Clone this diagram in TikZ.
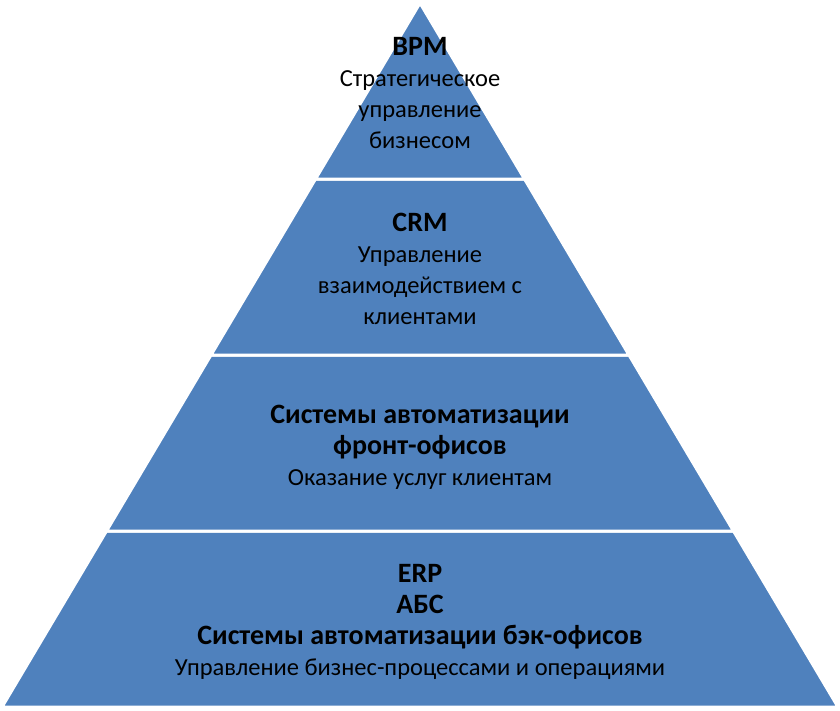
\documentclass[tikz,border=0pt]{standalone}
\usepackage{fontspec}
\setmainfont{Carlito}
\usetikzlibrary{calc}
\definecolor{layerblue}{HTML}{4F81BD}
\tikzset{
  layer/.style={fill=layerblue, draw=white, line width=3pt, line join=miter},
  label/.style={align=center, text=black, font=\fontsize{24.5}{31}\selectfont}
}
\newcommand{\ttl}[1]{{\fontsize{28}{33}\selectfont\bfseries #1}}
\begin{document}
\begin{tikzpicture}[x=1pt,y=-1pt]
  \useasboundingbox (0,0) rectangle (840,710);
  \coordinate (apex) at (420,3);
  \coordinate (bl) at (2,707);
  \coordinate (br) at (838,707);
  % layers, bottom to top
  \foreach \lo/\hi in {0/0.25,0.25/0.5,0.5/0.75,0.75/1}{
    \draw[layer] ($(bl)!\lo!(apex)$) -- ($(br)!\lo!(apex)$)
      -- ($(br)!\hi!(apex)$) -- ($(bl)!\hi!(apex)$) -- cycle;
  }
  \node[label] (bpm) at (420,93) {\ttl{BPM}\\Стратегическое\\управление\\бизнесом};
  \node[label] (crm) at (420,269) {\ttl{CRM}\\Управление\\взаимодействием с\\клиентами};
  \node[label] (front) at (420,447) {\ttl{Системы автоматизации}\\\ttl{фронт-офисов}\\Оказание услуг клиентам};
  \node[label] (back) at (420,622) {\ttl{ERP}\\\ttl{АБС}\\\ttl{Системы автоматизации бэк-офисов}\\Управление бизнес-процессами и операциями};
\end{tikzpicture}
\end{document}
